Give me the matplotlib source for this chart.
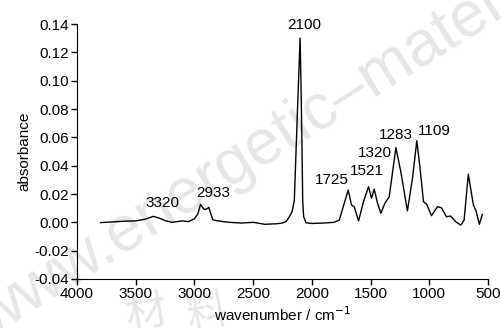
import matplotlib
matplotlib.use("Agg")
import matplotlib.pyplot as plt

# IR spectrum
wavenumber = [3800, 3700, 3600, 3500, 3420, 3350, 3300, 3250, 3190, 3150,
              3100, 3050, 3000, 2970, 2948, 2930, 2914, 2895, 2877, 2860,
              2843, 2800, 2700, 2600, 2500, 2400, 2300, 2250, 2220, 2191,
              2168, 2149, 2135, 2115, 2100, 2092, 2083, 2078, 2070, 2050,
              2000, 1900, 1810, 1766, 1724, 1690, 1662, 1639, 1602, 1560,
              1517, 1492, 1469, 1440, 1412, 1378, 1341, 1284, 1242, 1186,
              1143, 1106, 1078, 1049, 1021, 981, 930, 896, 854, 817,
              774, 731, 703, 667, 624, 601, 573, 548]
absorbance = [-0.0002, 0.0003, 0.0008, 0.0010, 0.0022, 0.0042, 0.0030, 0.0012, 0.0000, 0.0005,
              0.0010, 0.0005, 0.0025, 0.0060, 0.0127, 0.0105, 0.0090, 0.0095, 0.0106, 0.0060,
              0.0018, 0.0010, 0.0000, -0.0005, 0.0000, -0.0014, -0.0010, -0.0005, 0.0005, 0.0040,
              0.0075, 0.0157, 0.0490, 0.0960, 0.1300, 0.0960, 0.0490, 0.0160, 0.0040, -0.0003,
              -0.0008, -0.0005, 0.0000, 0.0016, 0.0134, 0.0228, 0.0122, 0.0110, 0.0010, 0.0146,
              0.0252, 0.0170, 0.0235, 0.0134, 0.0064, 0.0134, 0.0180, 0.0527, 0.0357, 0.0080,
              0.0310, 0.0576, 0.0380, 0.0146, 0.0127, 0.0047, 0.0110, 0.0103, 0.0040, 0.0044,
              0.0004, -0.0020, 0.0016, 0.0340, 0.0122, 0.0080, -0.0014, 0.0056]

peak_labels = ["3320", "2933", "2100", "1725", "1521", "1320", "1283", "1109"]
label_x = [3271, 2840, 2066, 1826, 1532, 1460, 1281, 961]
label_y = [0.0086, 0.0157, 0.1346, 0.0247, 0.031, 0.044, 0.0565, 0.0597]

x_ticks = [4000, 3500, 3000, 2500, 2000, 1500, 1000, 500]
y_ticks = [-0.04, -0.02, 0.00, 0.02, 0.04, 0.06, 0.08, 0.10, 0.12, 0.14]

plt.rcParams["font.family"] = ["Liberation Sans", "DejaVu Sans"]
FS = 11

fig = plt.figure(figsize=(5.02, 3.28), dpi=100)
ax = fig.add_axes([0.1534, 0.1494, 0.8186, 0.7774])
ax.patch.set_alpha(0)

# faint watermark behind everything
wm = "#e6e6e6"
fig.text(-0.02, -0.03, "www.energetic\u2013materials.org.cn", fontsize=46, color=wm,
         rotation=32, rotation_mode="anchor", ha="left", va="baseline", zorder=-5)
for cx, ch in [(0.293, "材"), (0.414, "料")]:
    fig.text(cx, -0.03, ch, fontsize=30, color=wm, rotation=10,
             family=["Noto Sans CJK SC", "DejaVu Sans"], ha="center", va="bottom", zorder=-5)

ax.plot(wavenumber, absorbance, color="black", lw=1.0)
for txt, lx, ly in zip(peak_labels, label_x, label_y):
    ax.text(lx, ly, txt, ha="center", va="bottom", fontsize=FS)

ax.set_xlim(4000, 500)
ax.set_ylim(-0.04, 0.14)
ax.set_xticks(x_ticks)
ax.set_yticks(y_ticks)
ax.set_yticklabels([f"{v:.2f}" for v in y_ticks])
ax.tick_params(direction="out", length=4, width=1, labelsize=FS, pad=2)
ax.spines["top"].set_visible(False)
ax.spines["right"].set_visible(False)
ax.set_xlabel("wavenumber / cm$^{-1}$", fontsize=FS, labelpad=3)
ax.set_ylabel("absorbance", fontsize=FS, labelpad=2)

plt.savefig("out.png", dpi=100)
plt.close()
